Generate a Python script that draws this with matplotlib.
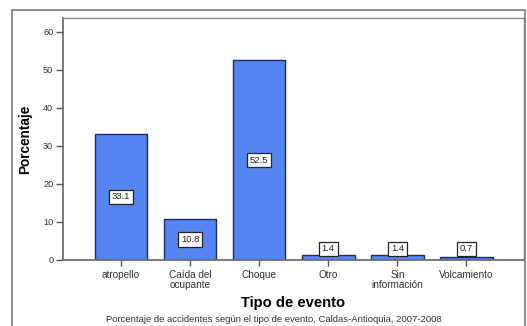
import matplotlib.pyplot as plt
from matplotlib.patches import Rectangle

# Porcentaje de accidentes por tipo de evento
categorias = ['atropello', 'Caída del\nocupante', 'Choque', 'Otro',
              'Sin\ninformación', 'Volcamiento']
porcentajes = [33.1, 10.8, 52.5, 1.4, 1.4, 0.7]
yticks = [0, 10, 20, 30, 40, 50, 60]

plt.rcParams['font.family'] = ['Liberation Sans', 'DejaVu Sans']

fig = plt.figure(figsize=(5.27, 3.26), dpi=100)
ax = fig.add_axes([0.1195, 0.2025, 0.8745, 0.7425])

# marco exterior del gráfico
fig.patches.append(Rectangle((12 / 527, -0.01), 513 / 527, 1 - 10 / 326 + 0.01,
                             transform=fig.transFigure, fill=False,
                             edgecolor='#7a7a7a', linewidth=1.2))

x = list(range(len(categorias)))
ax.bar(x, porcentajes, width=0.76, color='#5585f2',
       edgecolor='#1c2a66', linewidth=1.0, zorder=2)

# etiquetas de valor en recuadro blanco
for xi, v in zip(x, porcentajes):
    ax.text(xi, max(v / 2, 2.9), f'{v:.1f}', ha='center', va='center',
            fontsize=6.8, color='#222222', zorder=3,
            bbox=dict(boxstyle='square,pad=0.3', facecolor='white',
                      edgecolor='#222222', linewidth=0.9))

ax.set_xlim(-0.84, 5.83)
ax.set_ylim(0, 63.6)
ax.set_yticks(yticks)
ax.set_xticks(x)
ax.set_xticklabels(categorias, fontsize=7.2, color='#333333', linespacing=1.0)
ax.tick_params(axis='y', labelsize=6.6, labelcolor='#333333', length=5,
               width=1.0, color='#555555', pad=2)
ax.tick_params(axis='x', length=4, width=1.0, color='#555555', pad=3)

for side in ['left', 'bottom']:
    ax.spines[side].set_color('#6f6f6f')
    ax.spines[side].set_linewidth(1.3)
for side in ['top', 'right']:
    ax.spines[side].set_color('#8a8a8a')
    ax.spines[side].set_linewidth(1.0)

ax.set_ylabel('Porcentaje', fontsize=9.8, fontweight='bold')
ax.yaxis.set_label_coords(-0.068, 0.5)
ax.set_xlabel('Tipo de evento', fontsize=10.6, fontweight='bold')
ax.xaxis.set_label_coords(0.5, -0.15)

fig.text(274 / 527, 1 - 320 / 326,
         'Porcentaje de accidentes según el tipo de evento, Caldas-Antioquia, 2007-2008',
         ha='center', va='center', fontsize=6.8, color='#333333')

fig.savefig('out.png', dpi=100)
